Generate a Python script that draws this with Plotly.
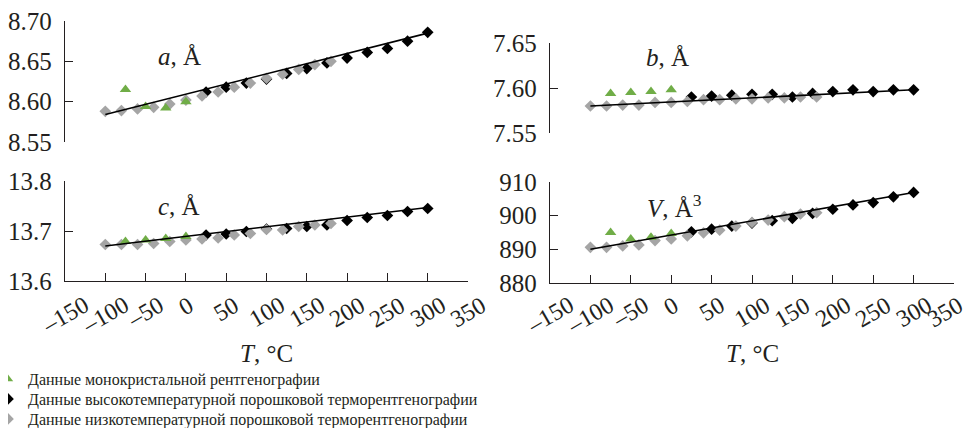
import plotly.graph_objects as go

# ---------------- data ----------------
T_single = [-75, -50, -25, 0]
T_high = [25, 50, 75, 100, 125, 150, 175, 200, 225, 250, 275, 300]
T_low = [-100, -80, -60, -40, -20, 0, 20, 40, 60, 80, 100, 120, 140, 160, 180]
T_fit = [-100, 300]

a_single = [8.615, 8.594, 8.592, 8.600]
a_high = [8.612, 8.618, 8.623, 8.628, 8.635, 8.641, 8.648, 8.654, 8.661, 8.666, 8.675, 8.686]
a_low = [8.588, 8.589, 8.591, 8.593, 8.597, 8.602, 8.607, 8.612, 8.618, 8.623, 8.629, 8.634, 8.640, 8.646, 8.650]
a_fit = [8.584, 8.685]

b_single = [7.594, 7.595, 7.596, 7.598]
b_high = [7.590, 7.591, 7.592, 7.593, 7.593, 7.590, 7.594, 7.596, 7.598, 7.596, 7.598, 7.598]
b_low = [7.580, 7.580, 7.581, 7.581, 7.584, 7.584, 7.585, 7.587, 7.587, 7.588, 7.588, 7.589, 7.589, 7.590, 7.590]
b_fit = [7.580, 7.598]

c_single = [13.679, 13.682, 13.685, 13.689]
c_high = [13.692, 13.694, 13.699, 13.704, 13.705, 13.709, 13.712, 13.721, 13.727, 13.731, 13.739, 13.745]
c_low = [13.673, 13.673, 13.673, 13.675, 13.679, 13.682, 13.684, 13.686, 13.692, 13.695, 13.703, 13.702, 13.709, 13.712, 13.715]
c_fit = [13.670, 13.747]

V_single = [895.0, 893.1, 893.6, 894.7]
V_high = [895.2, 896.0, 896.9, 897.8, 898.5, 899.2, 900.7, 901.9, 903.2, 903.9, 905.6, 906.9]
V_low = [890.6, 890.6, 891.0, 891.3, 892.6, 893.1, 894.0, 894.9, 895.7, 896.9, 898.0, 898.7, 899.7, 900.5, 900.9]
V_fit = [890.0, 906.9]

x_ticks = [-150, -100, -50, 0, 50, 100, 150, 200, 250, 300, 350]
x_tick_text = ["\u2013150", "\u2013100", "\u201350", "0", "50", "100", "150", "200", "250", "300", "350"]

panel_labels = ["<i>a</i>, Å", "<i>b</i>, Å", "<i>c</i>, Å", "<i>V</i>, Å<sup>3</sup>"]
legend_names = [
    "Данные монокристальной рентгенографии",
    "Данные высокотемпературной порошковой терморентгенографии",
    "Данные низкотемпературной порошковой терморентгенографии",
]

GREEN = "#70AD47"
GREY = "#A5A5A5"
BLACK = "#000000"
FONT = "Liberation Serif, Times New Roman, DejaVu Serif, serif"
TXT = "#231F20"

# the page body has an 8px margin: the figure is sized to fit the 974x428 window
OFF = 8
W, H = 974 - OFF, 428 - OFF

def px_x(p):
    return (p - OFF) / W

def px_y(p):
    return 1 - (p - OFF) / H

# panel pixel boxes in window pixels: (x0, x1, ytop, ybottom)
boxes = [
    (65, 468, 21, 142),
    (550, 954, 43, 133),
    (65, 468, 181, 281),
    (550, 954, 182, 283),
]
yranges = [[8.55, 8.70], [7.55, 7.65], [13.6, 13.8], [880, 910]]
ydticks = [0.05, 0.05, 0.1, 10]
yfmts = [".2f", ".2f", ".1f", "d"]
label_pos = [(0.285, 0.71), (0.292, 0.844), (0.283, 0.75), (0.309, 0.762)]

series = [
    (a_single, a_high, a_low, a_fit),
    (b_single, b_high, b_low, b_fit),
    (c_single, c_high, c_low, c_fit),
    (V_single, V_high, V_low, V_fit),
]

fig = go.Figure()
annotations = []

for i, (sgl, hi, lo, fit) in enumerate(series):
    n = "" if i == 0 else str(i + 1)
    xa, ya = "x" + n, "y" + n
    fig.add_trace(go.Scatter(x=T_high, y=hi, mode="markers", xaxis=xa, yaxis=ya, showlegend=False,
                             marker=dict(symbol="diamond", size=9, color=BLACK, line=dict(width=0))))
    fig.add_trace(go.Scatter(x=T_low, y=lo, mode="markers", xaxis=xa, yaxis=ya, showlegend=False,
                             marker=dict(symbol="diamond", size=9, color=GREY, line=dict(width=0))))
    fig.add_trace(go.Scatter(x=T_single, y=sgl, mode="markers", xaxis=xa, yaxis=ya, showlegend=False,
                             marker=dict(symbol="triangle-up", size=10, color=GREEN, line=dict(width=0))))
    fig.add_trace(go.Scatter(x=T_fit, y=fit, mode="lines", xaxis=xa, yaxis=ya, showlegend=False,
                             line=dict(color=BLACK, width=1.6)))

    x0, x1, yt, yb = boxes[i]
    bottom = i >= 2
    fig.update_layout(**{
        ("xaxis" + n): dict(domain=[px_x(x0), px_x(x1)], range=[-150, 350], anchor=ya,
                            tickvals=x_ticks, showticklabels=False, automargin=False,
                            showline=bottom, linecolor=TXT, linewidth=1.3,
                            ticks="inside" if bottom else "", ticklen=8, tickwidth=1.3, tickcolor=TXT,
                            showgrid=False, zeroline=False, visible=bottom),
        ("yaxis" + n): dict(domain=[px_y(yb), px_y(yt)], range=yranges[i], anchor=xa,
                            dtick=ydticks[i], tick0=yranges[i][0], tickformat=yfmts[i],
                            showline=True, linecolor=TXT, linewidth=1.3, automargin=False,
                            ticks="inside", ticklen=8, tickwidth=1.3, tickcolor=TXT,
                            ticklabelstandoff=7, ticklabeloverflow="allow",
                            tickfont=dict(family=FONT, size=25, color=TXT),
                            showgrid=False, zeroline=False),
    })

    lx, ly = label_pos[i]
    annotations.append(dict(text=panel_labels[i], xref=xa + " domain", yref=ya + " domain",
                            x=lx, y=ly, showarrow=False, xanchor="center", yanchor="middle",
                            font=dict(family=FONT, size=25, color=TXT)))
    if bottom:
        for k, (tv, tt) in enumerate(zip(x_ticks, x_tick_text)):
            last_right = (i == 3 and k == len(x_ticks) - 1)
            annotations.append(dict(text=tt, xref=xa, yref="paper", x=tv, y=px_y(289),
                                    showarrow=False, textangle=-30,
                                    xanchor="right" if last_right else "center",
                                    xshift=16 if last_right else 0, yanchor="top",
                                    font=dict(family=FONT, size=24, color=TXT)))
        annotations.append(dict(text="<i>T</i>, °C", xref=xa + " domain", yref="paper",
                                x=0.5, y=px_y(353), showarrow=False, xanchor="center", yanchor="middle",
                                font=dict(family=FONT, size=25, color=TXT)))

# legend entries: one legend per entry so that the line spacing matches
legend_ids = ["legend", "legend2", "legend3"]
legend_tops = [362, 382, 402]
for name, sym, col, lid in zip(legend_names, ["triangle-up", "diamond", "diamond"],
                               [GREEN, BLACK, GREY], legend_ids):
    fig.add_trace(go.Scatter(x=[None], y=[None], mode="markers", name=name, legend=lid,
                             marker=dict(symbol=sym, size=9, color=col)))

legend_layout = {}
for lid, top in zip(legend_ids, legend_tops):
    legend_layout[lid] = dict(x=-0.0207, xanchor="left", y=px_y(top), yanchor="top",
                              font=dict(family=FONT, size=16, color=TXT),
                              itemwidth=30, tracegroupgap=0, bgcolor="rgba(0,0,0,0)")

fig.update_layout(
    width=W, height=H,
    margin=dict(l=0, r=0, t=0, b=0, autoexpand=False),
    paper_bgcolor="white", plot_bgcolor="rgba(0,0,0,0)",
    annotations=annotations,
    showlegend=True,
    **legend_layout,
)

fig.write_html("out.html")
